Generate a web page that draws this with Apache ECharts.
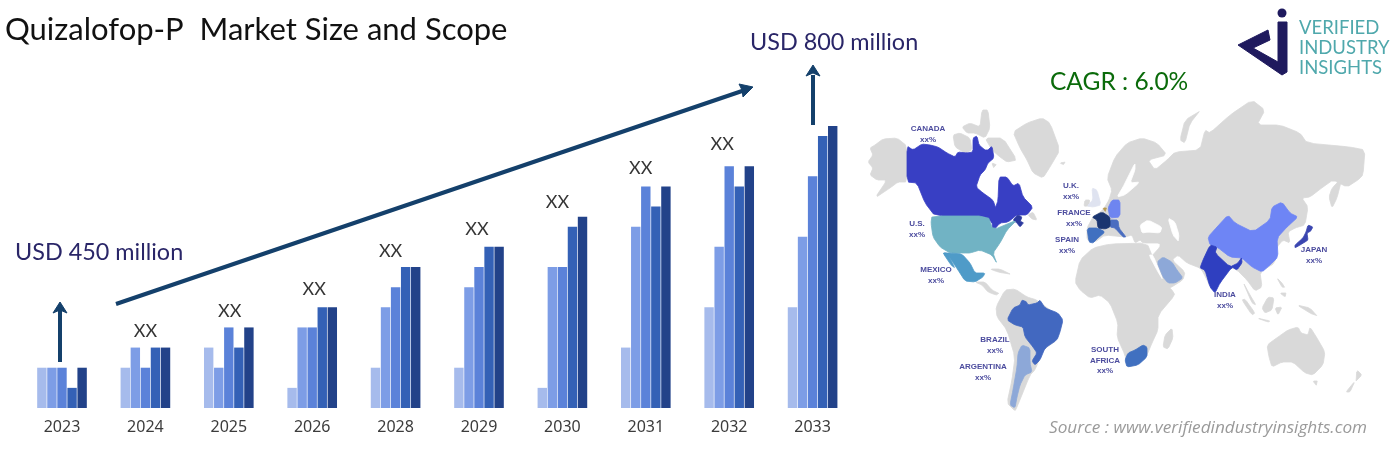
<!DOCTYPE html>
<html>
<head>
<meta charset="utf-8">
<title>Quizalofop-P Market Size and Scope</title>
<script src="https://cdn.jsdelivr.net/npm/echarts@6/dist/echarts.min.js"></script>
<style>
  html, body { margin: 0; padding: 0; background: #fff; }
  #chart { width: 1400px; height: 465px; }
</style>
</head>
<body>
<div id="chart"></div>
<script>
// Bar data (the source has no axis, so these are grid steps)
const years = ['2023', '2024', '2025', '2026', '2028', '2029', '2030', '2031', '2032', '2033']
const barsA = [2, 2, 3, 1, 2, 2, 1, 3, 5, 5]
const barsB = [2, 3, 2, 4, 5, 6, 7, 9, 8, 8.5]
const barsC = [2, 2, 4, 4, 6, 7, 7, 11, 12, 11.5]
const barsD = [1, 3, 3, 5, 7, 8, 9, 10, 11, 13.5]
const barsE = [2, 3, 4, 5, 7, 8, 9.5, 11, 12, 14]
const barColors = ['#a6bbec', '#7d9de6', '#5b82d9', '#3461b6', '#224289']

// Height of the XX captions on the same scale, and their sideways shift in px
const xxLevels = [null, 3.8, 4.8, 5.9, 7.8, 8.9, 10.2, 11.9, 13.1, null]
const xxShift = [0, 0, 1, 2, -5, -2, -5, -5, -7, 0]

// Traced map outlines, in page pixels. Later shapes paint over earlier ones
const GREY = '#d9d9d9'
const WHITE = '#ffffff'
const mapShapes = [
  ['Alaska', GREY, [[907,146],[897,138],[883,139],[875,145],[870,148],[873,155],[868,162],[873,168],[870,175],[877,180],[887,180],[875,198],[890,188],[898,182],[907,182]]],
  ['Arctic A', GREY, [[953,135],[960,133],[970,138],[972,150],[965,153],[955,147]]],
  ['Arctic B', GREY, [[962,127],[970,123],[980,127],[982,110],[988,110],[990,128],[985,138],[975,133],[967,133]]],
  ['Arctic C', GREY, [[985,138],[1003,138],[1017,160],[1007,162],[1000,157],[992,150]]],
  ['Arctic D', GREY, [[992,163],[997,165],[993,168]]],
  ['Newfoundland', GREY, [[1028,215],[1033,212],[1037,220],[1032,219]]],
  ['Greenland', GREY, [[1013,132],[1027,123],[1042,118],[1050,123],[1060,150],[1050,167],[1043,178],[1033,173],[1027,160],[1020,148]]],
  ['Iceland', GREY, [[1060,163],[1066,162],[1063,165]]],
  ['Central America', GREY, [[975,282],[985,282],[992,290],[1000,294],[996,295],[988,292],[982,285]]],
  ['Caribbean', GREY, [[990,269],[1000,269],[1012,275],[998,272]]],
  ['South America', GREY, [[996,307],[1005,290],[1015,289],[1027,297],[1037,300],[1063,320],[1057,340],[1043,350],[1035,370],[1030,375],[1017,407],[1015,411],[1007,403],[1012,380],[1015,357],[1007,330],[997,317]]],
  ['Eurasia', GREY, [[1093,217],[1103,210],[1109,200],[1112,190],[1107,178],[1115,157],[1127,143],[1142,138],[1157,143],[1167,155],[1148,160],[1155,170],[1167,160],[1175,152],[1200,150],[1205,130],[1210,133],[1230,115],[1252,100],[1265,110],[1257,125],[1280,125],[1300,133],[1307,143],[1350,147],[1365,150],[1363,175],[1358,180],[1347,187],[1333,180],[1323,187],[1310,197],[1302,198],[1308,207],[1305,225],[1295,228],[1288,232],[1290,243],[1283,240],[1277,247],[1275,263],[1260,272],[1262,287],[1255,291],[1247,280],[1237,270],[1225,265],[1213,292],[1203,272],[1200,268],[1187,263],[1178,255],[1172,260],[1185,272],[1183,280],[1170,288],[1165,288],[1157,270],[1150,258],[1160,247],[1160,243],[1143,243],[1140,240],[1135,243],[1132,235],[1125,237],[1105,235],[1095,242],[1087,240],[1087,228]]],
  ['Novaya Zemlya', GREY, [[1180,140],[1185,120],[1202,110],[1190,123],[1185,143]]],
  ['Sakhalin', GREY, [[1329,197],[1332,188],[1342,178],[1337,198],[1332,208]]],
  ['Malay', GREY, [[1243,282],[1250,295],[1256,305],[1252,303]]],
  ['Africa', GREY, [[1075,282],[1080,260],[1093,248],[1110,244],[1147,243],[1153,258],[1162,280],[1172,290],[1175,295],[1158,315],[1158,330],[1152,343],[1147,355],[1137,365],[1127,367],[1125,355],[1117,337],[1118,323],[1110,303],[1100,295],[1090,298],[1080,290]]],
  ['Madagascar', GREY, [[1163,347],[1165,335],[1172,328],[1173,338],[1168,349]]],
  ['Sumatra', GREY, [[1242,300],[1245,299],[1255,313],[1252,315]]],
  ['Java', GREY, [[1257,318],[1270,321],[1268,322]]],
  ['Borneo', GREY, [[1262,308],[1268,297],[1274,298],[1272,310],[1265,313]]],
  ['Sulawesi', GREY, [[1275,308],[1282,307],[1278,315]]],
  ['New Guinea', GREY, [[1297,305],[1310,308],[1318,317],[1310,313]]],
  ['Philippines A', GREY, [[1277,278],[1282,283],[1285,288],[1282,287]]],
  ['Philippines B', GREY, [[1280,293],[1287,293],[1285,297]]],
  ['Australia', GREY, [[1267,345],[1278,337],[1288,330],[1298,327],[1301,333],[1308,335],[1310,327],[1317,338],[1325,352],[1323,365],[1313,375],[1305,373],[1293,362],[1282,362],[1272,367],[1269,357]]],
  ['Tasmania', GREY, [[1313,381],[1318,381],[1316,386]]],
  ['NZ North', GREY, [[1357,370],[1362,375],[1355,382]]],
  ['NZ South', GREY, [[1355,381],[1350,392],[1346,392]]],
  ['Ireland', GREY, [[1085,200],[1090,200],[1088,207],[1084,206]]],
  ['Baltic', WHITE, [[1135,163],[1128,177],[1123,187],[1117,197],[1125,195],[1140,182],[1130,183],[1135,170]]],
  ['Black Sea', WHITE, [[1140,225],[1148,220],[1162,227],[1160,233],[1148,232],[1142,233]]],
  ['Caspian', WHITE, [[1168,218],[1175,222],[1179,235],[1178,242],[1173,235]]],
  ['Red Sea', WHITE, [[1149,255],[1153,255],[1163,280],[1158,272]]],
  ['Canada', '#383fc4', [[907,146],[913,150],[922,144],[930,145],[938,147],[947,153],[955,157],[958,152],[967,153],[973,152],[973,138],[977,136],[979,145],[985,150],[988,150],[992,146],[994,158],[988,163],[985,170],[980,175],[976,187],[983,193],[993,200],[996,209],[998,200],[999,177],[1007,177],[1013,186],[1019,183],[1023,197],[1033,207],[1027,215],[1017,215],[1008,222],[1000,223],[993,231],[992,222],[983,216],[935,216],[925,203],[917,183],[907,182]]],
  ['Canada East', '#2c3a9f', [[1013,220],[1018,215],[1022,217],[1020,222],[1024,223],[1020,227],[1017,223]]],
  ['U.S.', '#71b3c4', [[932,216],[988,216],[993,230],[1017,220],[1007,230],[1000,243],[993,253],[997,264],[992,255],[980,250],[970,253],[965,253],[950,253],[940,247],[933,237],[931,223]]],
  ['Mexico', '#4f9bc8', [[943,253],[950,253],[962,254],[970,263],[975,273],[985,273],[983,277],[975,282],[965,281],[958,270],[950,258],[947,257]]],
  ['Baja', '#4f9bc8', [[943,253],[947,253],[955,268],[951,265]]],
  ['Brazil', '#4268c0', [[1007,320],[1013,308],[1020,305],[1022,300],[1027,302],[1028,305],[1037,303],[1040,300],[1045,308],[1058,313],[1063,320],[1060,332],[1057,340],[1045,348],[1040,360],[1035,365],[1032,361],[1037,353],[1033,347],[1025,337],[1023,327],[1015,325]]],
  ['Argentina', '#8da8d8', [[1022,345],[1030,348],[1030,363],[1032,372],[1025,375],[1020,385],[1017,397],[1015,408],[1010,405],[1013,390],[1017,367],[1018,353]]],
  ['U.K.', '#dfe3f0', [[1092,188],[1097,190],[1101,205],[1093,207],[1087,206],[1093,200]]],
  ['Germany', '#6e85f0', [[1112,200],[1120,200],[1120,217],[1110,218],[1108,208]]],
  ['Italy', '#4a6dc0', [[1110,220],[1118,220],[1119,228],[1126,237],[1123,237],[1115,228],[1110,227]]],
  ['Spain', '#4070c0', [[1087,228],[1098,228],[1105,232],[1098,238],[1093,243],[1089,242]]],
  ['France', '#1a3570', [[1092,217],[1102,212],[1110,217],[1110,227],[1105,229],[1098,228],[1097,220]]],
  ['Belgium', '#b89a50', [[1103,208],[1107,208],[1105,212]]],
  ['South Africa', '#4070c0', [[1128,353],[1135,350],[1143,345],[1147,347],[1147,357],[1138,365],[1127,367],[1125,360]]],
  ['Saudi Arabia', '#8da8d8', [[1157,262],[1163,257],[1172,262],[1177,270],[1183,278],[1175,283],[1168,283],[1163,277]]],
  ['China', '#6e85f5', [[1208,237],[1217,227],[1228,215],[1235,223],[1253,232],[1270,220],[1272,207],[1282,202],[1290,213],[1298,217],[1287,227],[1277,238],[1278,257],[1270,265],[1262,272],[1252,267],[1242,258],[1230,257],[1217,247],[1210,245]]],
  ['India', '#2f3fc0', [[1210,245],[1217,247],[1215,253],[1230,267],[1238,263],[1242,257],[1242,263],[1237,270],[1232,267],[1220,283],[1215,293],[1210,287],[1205,270],[1200,268],[1203,260]]],
  ['Japan', '#3a45b0', [[1308,225],[1313,227],[1310,232],[1307,233],[1308,240],[1305,242],[1295,248],[1295,245],[1303,238],[1306,232]]],
]

// Country captions: lines of text, centre x, y of the first line
const countryLabels = [
  [['CANADA', 'xx%'], 928, 129],
  [['U.K.', 'xx%'], 1071, 186],
  [['GERMANY', 'xx%'], 1145, 203],
  [['FRANCE', 'xx%'], 1074, 213],
  [['SPAIN', 'xx%'], 1067, 240],
  [['U.S.', 'xx%'], 917, 224],
  [['CHINA', 'xx%'], 1249, 199],
  [['ITALY', 'xx%'], 1120, 249],
  [['MEXICO', 'xx%'], 936, 270],
  [['JAPAN', 'xx%'], 1314, 250],
  [['SAUDI', 'ARABIA', 'xx%'], 1148, 272],
  [['INDIA', 'xx%'], 1225, 295],
  [['BRAZIL', 'xx%'], 995, 340],
  [['ARGENTINA', 'xx%'], 983, 367],
  [['SOUTH', 'AFRICA', 'xx%'], 1105, 350],
]

// Light corner cutting so the traced outlines lose their hard angles
const roundCorners = (ring) =>
  ring.flatMap((p, i) => {
    const q = ring[(i + 1) % ring.length]
    return [
      [p[0] * 0.84 + q[0] * 0.16, p[1] * 0.84 + q[1] * 0.16],
      [p[0] * 0.16 + q[0] * 0.84, p[1] * 0.16 + q[1] * 0.84],
    ]
  })

const mapRings = mapShapes.map((shape) => roundCorners(shape[2]))
const allPoints = mapRings.flat()
const mapLeft = Math.min(...allPoints.map((p) => p[0]))
const mapRight = Math.max(...allPoints.map((p) => p[0]))
const mapTop = Math.min(...allPoints.map((p) => p[1]))
const mapBottom = Math.max(...allPoints.map((p) => p[1]))

echarts.registerMap('tracedWorld', {
  type: 'FeatureCollection',
  features: mapShapes.map((shape, i) => ({
    type: 'Feature',
    properties: { name: shape[0] },
    geometry: { type: 'Polygon', coordinates: [[...mapRings[i], mapRings[i][0]]] },
  })),
})

const ARROW = '#14406b'
const NAVY = '#2a2668'
const BODY_FONT = 'Lato, "Open Sans", sans-serif'

const pageText = (text, x, y, size, fill, extra = {}) => ({
  type: 'text',
  x,
  y,
  silent: true,
  style: { text, fill, font: `${size}px ${BODY_FONT}`, textVerticalAlign: 'middle', ...extra },
})

const arrow = (x1, y1, x2, y2, x3, y3, tipX, tipY, baseA, baseB) => [
  { type: 'line', silent: true, shape: { x1, y1, x2, y2 }, style: { stroke: ARROW, lineWidth: 4 } },
  {
    type: 'polygon',
    silent: true,
    shape: { points: [[tipX, tipY], baseA, [x3, y3], baseB] },
    style: { fill: ARROW, stroke: ARROW, lineWidth: 1, lineJoin: 'round' },
  },
]

const labelGraphics = countryLabels.flatMap(([lines, x, y]) =>
  lines.map((line, i) => ({
    type: 'text',
    x,
    y: y + i * 10.3,
    silent: true,
    style: {
      text: line,
      fill: '#4c4c9e',
      font: 'bold 8px "Liberation Sans", Arial, sans-serif',
      textAlign: 'center',
      textVerticalAlign: 'middle',
    },
  }))
)

const logoGraphics = [
  { type: 'circle', silent: true, shape: { cx: 1282, cy: 13, r: 4.5 }, style: { fill: '#1f1a5e' } },
  {
    type: 'polygon',
    silent: true,
    shape: { points: [[1278, 22], [1287, 22], [1287, 72], [1282, 75], [1238, 45], [1268, 30], [1270, 40], [1253, 48], [1278, 62]] },
    style: { fill: '#1f1a5e', stroke: '#1f1a5e', lineWidth: 1, lineJoin: 'round' },
  },
  pageText('VERIFIED', 1299, 28, 18.5, '#4fa8ac'),
  pageText('INDUSTRY', 1299, 48, 18.5, '#4fa8ac'),
  pageText('INSIGHTS', 1299, 68, 18.5, '#4fa8ac'),
]

const chart = echarts.init(document.getElementById('chart'), null, { renderer: 'canvas' })

chart.setOption({
  animation: false,
  backgroundColor: '#fff',
  grid: { left: 20.3, top: 126, width: 834, height: 282 },
  xAxis: {
    type: 'category',
    data: years,
    axisLine: { show: false },
    axisTick: { show: false },
    axisLabel: { color: '#3c3c3c', fontSize: 16, fontFamily: '"Noto Sans", sans-serif', margin: 11 },
  },
  yAxis: { type: 'value', min: 0, max: 14, show: false },
  geo: {
    map: 'tracedWorld',
    silent: true,
    roam: false,
    left: mapLeft,
    top: mapTop,
    width: mapRight - mapLeft,
    height: mapBottom - mapTop,
    projection: { project: (p) => p, unproject: (p) => p },
    label: { show: false },
    itemStyle: { areaColor: GREY, borderWidth: 0 },
    regions: mapShapes.map((shape) => ({
      name: shape[0],
      itemStyle: { areaColor: shape[1], borderColor: shape[1], borderWidth: 0.8 },
    })),
  },
  series: [
    ...[barsA, barsB, barsC, barsD, barsE].map((values, i) => ({
      type: 'bar',
      data: values,
      barWidth: 9.4,
      barGap: '7%',
      itemStyle: { color: barColors[i] },
      silent: true,
    })),
    {
      type: 'scatter',
      symbolSize: 0,
      silent: true,
      data: xxLevels.map((level, i) => ({
        value: level,
        label: { offset: [xxShift[i], 0] },
      })),
      label: {
        show: true,
        position: 'inside',
        formatter: 'XX',
        color: '#000',
        fontSize: 18,
        fontFamily: BODY_FONT,
      },
    },
  ],
  graphic: [
    pageText('Quizalofop-P  Market Size and Scope', 5, 30, 31, '#111'),
    pageText('USD 800 million', 750, 42, 23.4, NAVY),
    pageText('USD 450 million', 15, 252, 23.4, NAVY),
    pageText('CAGR : 6.0%', 1050, 82, 24.5, '#0b6b0b'),
    pageText('Source : www.verifiedindustryinsights.com', 1049, 428, 17, '#9a9a9a', {
      font: 'italic 17.2px "Open Sans", sans-serif',
    }),
    ...arrow(116, 304, 745, 90, 742, 90, 753, 87, [739, 84], [743, 97]),
    ...arrow(60, 362, 60, 310, 60, 310, 60, 302, [53, 313], [67, 313]),
    ...arrow(813, 125, 813, 75, 813, 73, 813, 65, [806, 76], [820, 76]),
    ...labelGraphics,
    ...logoGraphics,
  ],
})
</script>
</body>
</html>
